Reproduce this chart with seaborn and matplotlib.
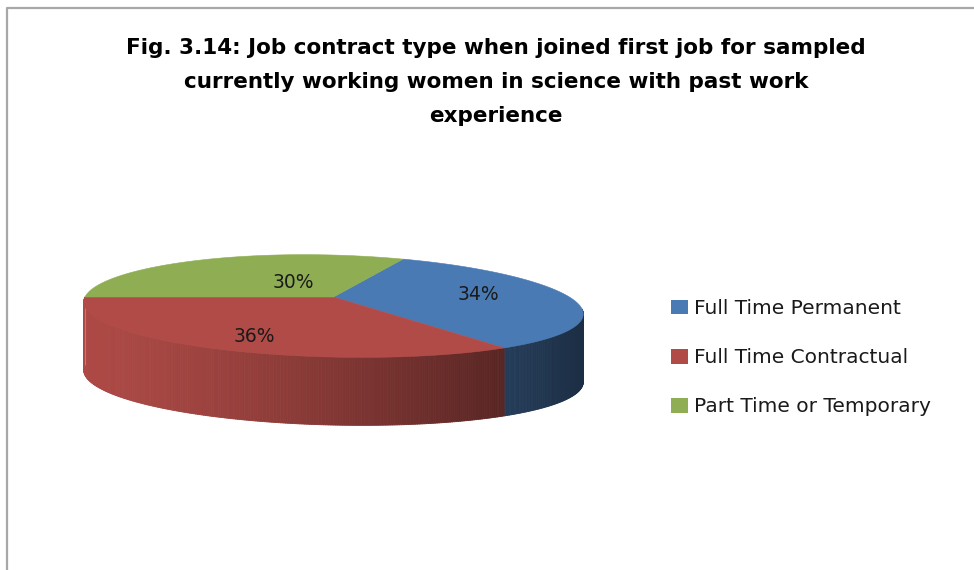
import numpy as np
import matplotlib
matplotlib.use("Agg")
import matplotlib.pyplot as plt
import seaborn as sns
from matplotlib.patches import Polygon, Patch
from matplotlib.collections import PolyCollection
from matplotlib.colors import to_rgb

# ---- data ----
categories = ["Full Time Permanent", "Full Time Contractual", "Part Time or Temporary"]
shares = [34, 36, 30]
slice_colors = ["#4a7ab4", "#b14b47", "#8fae53"]
title_text = ("Fig. 3.14: Job contract type when joined first job for sampled\n"
              "currently working women in science with past work\n"
              "experience")

# ---- style ----
sns.set_theme(style="white")
plt.rcParams["font.family"] = ["DejaVu Sans"]
palette = sns.color_palette(slice_colors)

W, H = 974, 570
fig = plt.figure(figsize=(W / 100, H / 100), dpi=100)
ax = fig.add_axes([0, 0, 1, 1])
ax.set_xlim(0, W)
ax.set_ylim(H, 0)
ax.axis("off")

# ---- 3-D pie geometry (pixel space) ----
CX, CY = 333.5, 297.0      # centre of the top face
RX, RY = 248.5, 51.0       # half-width / mean half-height of the top face
DEPTH = 68.0               # thickness of the disc
TILT = 6.0                 # right side sits lower than the left
PX, PY = 0.10, 0.06        # perspective: the front is closer to the viewer
START = 72.0               # angle where the first slice begins (clockwise)


def rim(theta_deg, r=1.0):
    t = np.radians(theta_deg)
    c, s = np.cos(t), np.sin(t)
    x = CX + RX * r * c * (1 - PX * r * s)
    y = CY + TILT * r * (1 + c) - RY * r * s * (1 - PY * r * s)
    return x, y


def shade(x):
    """Brightness of the outer wall: lit on the left, dark on the right."""
    u = np.clip((x - (CX - RX)) / (2 * RX), 0, 1)
    return 0.98 - 0.6 * u ** 1.3


total = float(sum(shares))
edges = START - np.concatenate([[0.0], np.cumsum(shares)]) / total * 360.0

# outer wall, only the front half (-180..0 degrees) is visible
for k, col in enumerate(palette):
    hi, lo = edges[k], edges[k + 1]
    for shift in (-360.0, 0.0, 360.0):
        a, b = max(lo + shift, -180.0), min(hi + shift, 0.0)
        if b <= a:
            continue
        th = np.linspace(a, b, max(int((b - a) * 2), 2))
        quads, cols = [], []
        base = np.array(to_rgb(col))
        for t0, t1 in zip(th[:-1], th[1:]):
            x0, y0 = rim(t0)
            x1, y1 = rim(t1)
            quads.append([(x0, y0), (x1, y1), (x1, y1 + DEPTH), (x0, y0 + DEPTH)])
            cols.append(np.clip(base * shade(0.5 * (x0 + x1)), 0, 1))
        ax.add_collection(PolyCollection(quads, facecolors=cols, edgecolors=cols,
                                         linewidths=0.6, zorder=2))

# top face
for k, col in enumerate(palette):
    hi, lo = edges[k], edges[k + 1]
    th = np.linspace(hi, lo, 200)
    xs, ys = rim(th)
    pts = [(CX, CY)] + list(zip(xs, ys))
    ax.add_patch(Polygon(pts, closed=True, facecolor=col, edgecolor=col,
                         linewidth=0.4, zorder=3))

# percentage labels
label_r = [0.60, 0.70, 0.28]
label_dy = [-4, 4, -4]
for k, v in enumerate(shares):
    mid = 0.5 * (edges[k] + edges[k + 1])
    lx, ly = rim(mid, label_r[k])
    ax.text(lx, ly + label_dy[k], f"{v}%", ha="center", va="center",
            fontsize=13.5, color="#1a1a1a", zorder=4)

# legend
handles = [Patch(facecolor=c, edgecolor="none") for c in palette]
ax.legend(handles, categories, loc="upper left",
          bbox_to_anchor=(671 / W, 1 - 299 / H), frameon=False,
          fontsize=14.5, handlelength=0.85, handleheight=0.75,
          handletextpad=0.3, labelspacing=1.5, borderpad=0, borderaxespad=0,
          labelcolor="#1a1a1a")

# title
fig.text(496 / W, 1 - 82 / H, title_text, ha="center", va="center",
         fontsize=15.5, fontweight="bold", linespacing=1.9,
         family=["DejaVu Sans"], color="#000000")

# chart-area border (top and left edges)
ax.plot([6.5, 6.5, W], [H, 7.5, 7.5], color="#a8a8a8", linewidth=1.6,
        solid_capstyle="butt", zorder=1)

fig.savefig("out.png", dpi=100)
